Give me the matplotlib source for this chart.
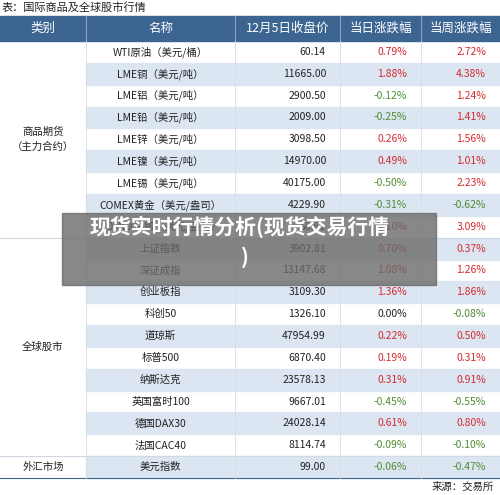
import matplotlib.pyplot as plt
from matplotlib.patches import Rectangle

plt.rcParams['font.family'] = ['Noto Sans CJK SC', 'DejaVu Sans']

title = "表：国际商品及全球股市行情"
headers = ["类别", "名称", "12月5日收盘价", "当日涨跌幅", "当周涨跌幅"]
names = ["WTI原油（美元/桶）", "LME铜（美元/吨）", "LME铝（美元/吨）", "LME铅（美元/吨）",
         "LME锌（美元/吨）", "LME镍（美元/吨）", "LME锡（美元/吨）", "COMEX黄金（美元/盎司）",
         "COMEX白银（美元/盎司）", "上证指数", "深证成指", "创业板指", "科创50", "道琼斯",
         "标普500", "纳斯达克", "英国富时100", "德国DAX30", "法国CAC40", "美元指数"]
prices = ["60.14", "11665.00", "2900.50", "2009.00", "3098.50", "14970.00", "40175.00",
          "4229.90", "58.61", "3902.81", "13147.68", "3109.30", "1326.10", "47954.99",
          "6870.40", "23578.13", "9667.01", "24028.14", "8114.74", "99.00"]
day_chg = [0.79, 1.88, -0.12, -0.25, 0.26, 0.49, -0.50, -0.31, 2.10, 0.70, 1.08, 1.36,
           0.00, 0.22, 0.19, 0.31, -0.45, 0.61, -0.09, -0.06]
week_chg = [2.72, 4.38, 1.24, 1.41, 1.56, 1.01, 2.23, -0.62, 3.09, 0.37, 1.26, 1.86,
            -0.08, 0.50, 0.31, 0.91, -0.55, 0.80, -0.10, -0.47]
groups = [("商品期货\n（主力合约）", 0, 9), ("全球股市", 9, 19), ("外汇市场", 19, 20)]
source = "来源：交易所"

W, H = 500, 495
fig = plt.figure(figsize=(5, 4.95), dpi=100)
ax = fig.add_axes([0, 0, 1, 1])
ax.set_xlim(0, W)
ax.set_ylim(H, 0)
ax.axis('off')

cols = [0, 86, 235, 340, 421, 500]
hdr_top, hdr_bot = 16, 41
row_h = (478 - hdr_bot) / len(names)
red, green, blue = "#d42a2f", "#4e8b32", "#3d6592"

ax.text(2, 7, title, fontsize=8, va='center', ha='left', color='#222')
ax.add_patch(Rectangle((0, hdr_top), W, hdr_bot - hdr_top, color=blue))
for i, h in enumerate(headers):
    ax.text((cols[i] + cols[i + 1]) / 2, (hdr_top + hdr_bot) / 2, h, color='white',
            fontsize=9, ha='center', va='center')
    if i > 0:
        ax.plot([cols[i]] * 2, [hdr_top, hdr_bot], color='#8aa3c4', lw=0.8)

def pct(v):
    return f"{v:.2f}%"

def col(v):
    return red if v > 0 else (green if v < 0 else '#222')

for r, n in enumerate(names):
    y0 = hdr_bot + r * row_h
    yc = y0 + row_h / 2
    if r % 2 == 1:
        ax.add_patch(Rectangle((cols[1], y0), W - cols[1], row_h, color='#dce6f2'))
    ax.text((cols[1] + cols[2]) / 2, yc, n, fontsize=7.5, ha='center', va='center', color='#222')
    ax.text(cols[3] - 14, yc, prices[r], fontsize=7.5, ha='right', va='center', color='#222')
    ax.text(cols[4] - 14, yc, pct(day_chg[r]), fontsize=7.5, ha='right', va='center', color=col(day_chg[r]))
    ax.text(cols[5] - 14, yc, pct(week_chg[r]), fontsize=7.5, ha='right', va='center', color=col(week_chg[r]))

for lbl, a, b in groups:
    ya, yb = hdr_bot + a * row_h, hdr_bot + b * row_h
    ax.text((cols[0] + cols[1]) / 2, (ya + yb) / 2, lbl, fontsize=7.5, ha='center',
            va='center', color='#222', linespacing=1.6)
    ax.plot([0, W], [yb, yb], color='#3d6592' if b == len(names) else '#cfd8e3', lw=0.8)
for c in cols[1:-1]:
    ax.plot([c, c], [hdr_bot, 478], color='#d6dde6', lw=0.6)

ax.text(W - 6, 487, source, fontsize=7.5, ha='right', va='center', color='#222')

ax.add_patch(Rectangle((62, 213), 374, 72, color='#6a6a6a', alpha=0.8, zorder=5))
ax.text(240, 227, "现货实时行情分析(现货交易行情", fontsize=15, fontweight='bold',
        color='white', ha='center', va='center', zorder=6)
ax.text(245, 257, ")", fontsize=15, fontweight='bold', color='white', ha='center',
        va='center', zorder=6)

fig.savefig("out.png", dpi=100)
